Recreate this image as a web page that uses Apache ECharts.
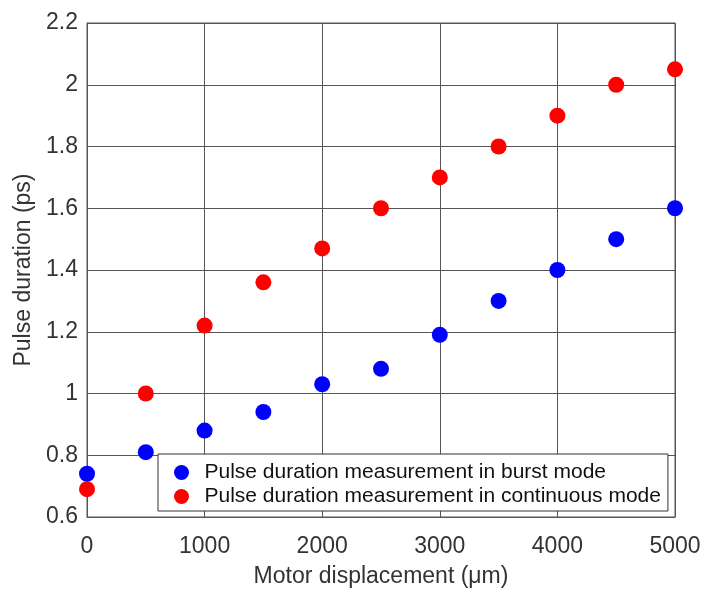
<!DOCTYPE html>
<html><head><meta charset="utf-8">
<script src="https://cdn.jsdelivr.net/npm/echarts@6/dist/echarts.min.js"></script>
<style>html,body{margin:0;padding:0;background:#fff}#c{width:704px;height:593px}</style>
</head><body><div id="c"></div>
<script>
const displacement = [0, 500, 1000, 1500, 2000, 2500, 3000, 3500, 4000, 4500, 5000];
const burst = [0.74, 0.81, 0.88, 0.94, 1.03, 1.08, 1.19, 1.30, 1.40, 1.50, 1.60];
const continuous = [0.69, 1.00, 1.22, 1.36, 1.47, 1.60, 1.70, 1.80, 1.90, 2.00, 2.05];
const burstName = 'Pulse duration measurement in burst mode';
const contName = 'Pulse duration measurement in continuous mode';

const chart = echarts.init(document.getElementById('c'));
const font = 'Liberation Sans, Arial, sans-serif';
chart.setOption({
  animation: false,
  grid: {left: 87, right: 29, top: 23, bottom: 75, show: true, borderColor: '#555', borderWidth: 1},
  xAxis: {
    type: 'value', min: 0, max: 5000, interval: 1000,
    name: 'Motor displacement (μm)', nameLocation: 'middle', nameGap: 48,
    nameTextStyle: {fontSize: 23, color: '#333', fontFamily: font},
    axisLine: {show: true, lineStyle: {color: '#555'}},
    axisTick: {show: false},
    axisLabel: {fontSize: 23, color: '#333', fontFamily: font, margin: 18,
      formatter: v => String(v)},
    splitLine: {show: true, lineStyle: {color: '#555', width: 1}}
  },
  yAxis: {
    type: 'value', min: 0.6, max: 2.2, interval: 0.2,
    name: 'Pulse duration (ps)', nameLocation: 'middle', nameGap: 52,
    nameTextStyle: {fontSize: 23, color: '#333', fontFamily: font},
    axisLine: {show: true, lineStyle: {color: '#555'}},
    axisTick: {show: false},
    axisLabel: {fontSize: 23, color: '#333', fontFamily: font, margin: 9,
      formatter: v => String(Math.round(v * 10) / 10)},
    splitLine: {show: true, lineStyle: {color: '#555', width: 1}}
  },
  legend: {
    orient: 'vertical', left: 158, top: 454,
    backgroundColor: '#fff', borderColor: '#333', borderWidth: 1,
    padding: [8, 7, 4, 16], itemGap: 3, itemWidth: 36, itemHeight: 15,
    textStyle: {fontSize: 21, color: '#111', fontFamily: font},
    data: [{name: burstName, icon: 'circle'}, {name: contName, icon: 'circle'}]
  },
  series: [
    {name: burstName, type: 'scatter', symbolSize: 16, itemStyle: {color: '#0000ff', opacity: 1},
     data: displacement.map((x, i) => [x, burst[i]]), z: 3},
    {name: contName, type: 'scatter', symbolSize: 16, itemStyle: {color: '#ff0000', opacity: 1},
     data: displacement.map((x, i) => [x, continuous[i]]), z: 3}
  ]
});
</script></body></html>
